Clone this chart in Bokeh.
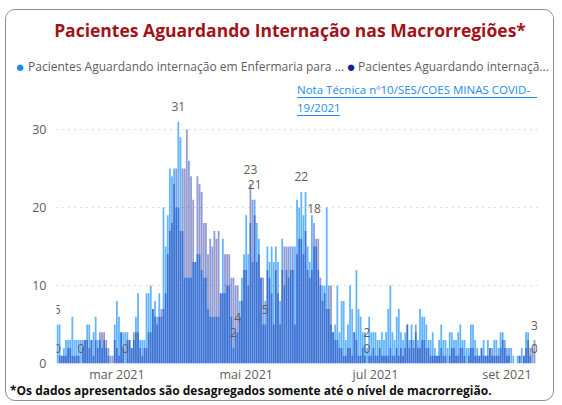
from bokeh.plotting import figure
from bokeh.layouts import column
from bokeh.models import ColumnDataSource, Label, BoxAnnotation, FixedTicker, Range1d
from bokeh.core.properties import value
from bokeh.embed import file_html
from bokeh.resources import INLINE

# day index 0 = 1 fev 2021
days = list(range(226))
enfermaria = [
    5, 5, 1, 2, 3, 3, 3, 6, 3, 3, 3, 3, 2, 3, 5, 5, 3, 4, 6, 3,
    3, 2, 3, 2, 1, 0, 0, 5, 8, 6, 4, 4, 4, 4, 3, 2, 3, 6, 9, 3,
    3, 3, 9, 9, 10, 7, 8, 6, 9, 6, 20, 15, 19, 25, 24, 25, 20, 31, 29, 17,
    11, 11, 11, 11, 13, 13, 14, 14, 12, 11, 11, 7, 6, 6, 6, 6, 6, 9, 16, 9,
    10, 10, 6, 2, 4, 4, 8, 11, 14, 19, 14, 18, 13, 21, 18, 16, 11, 5, 8, 15,
    13, 15, 13, 15, 13, 8, 16, 10, 12, 11, 15, 12, 15, 21, 20, 22, 19, 22, 15, 13,
    19, 15, 15, 12, 10, 10, 10, 20, 7, 5, 4, 5, 10, 4, 8, 8, 3, 5, 10, 7,
    4, 12, 7, 6, 4, 4, 2, 6, 4, 4, 4, 3, 3, 4, 3, 4, 7, 10, 4, 3,
    6, 7, 4, 3, 4, 5, 3, 5, 3, 4, 3, 7, 6, 6, 5, 3, 3, 4, 2, 1,
    3, 5, 3, 3, 2, 4, 4, 3, 3, 4, 5, 3, 3, 2, 2, 5, 5, 3, 2, 1,
    2, 3, 1, 3, 2, 1, 3, 3, 2, 4, 4, 3, 2, 1, 2, 1, 0, 1, 1, 2,
    1, 4, 4, 1, 0, 0,
]
uti = [
    0, 1, 1, 1, 1, 2, 2, 1, 1, 1, 1, 0, 3, 3, 3, 2, 3, 1, 3, 2,
    4, 4, 4, 3, 2, 1, 1, 3, 2, 1, 4, 2, 0, 3, 3, 2, 4, 4, 4, 2,
    1, 2, 2, 4, 4, 7, 6, 5, 6, 7, 7, 9, 14, 17, 18, 23, 25, 20, 17, 25,
    25, 30, 26, 24, 21, 13, 24, 23, 22, 18, 18, 14, 16, 15, 17, 16, 17, 9, 9, 14,
    14, 14, 11, 11, 10, 10, 6, 8, 12, 12, 10, 23, 21, 19, 13, 14, 11, 11, 5, 12,
    11, 9, 5, 12, 9, 5, 12, 15, 15, 15, 12, 15, 5, 14, 16, 16, 14, 17, 12, 11,
    12, 18, 16, 16, 11, 8, 9, 7, 10, 10, 4, 3, 3, 2, 2, 1, 1, 2, 2, 1,
    4, 3, 1, 1, 2, 1, 0, 1, 1, 2, 1, 1, 2, 1, 1, 1, 1, 2, 1, 1,
    2, 1, 2, 1, 2, 5, 2, 3, 2, 5, 2, 2, 3, 3, 2, 2, 1, 1, 1, 1,
    1, 2, 1, 1, 0, 1, 2, 2, 1, 1, 2, 2, 1, 0, 1, 2, 2, 1, 1, 1,
    2, 1, 1, 1, 2, 2, 1, 1, 1, 2, 3, 2, 1, 2, 0, 0, 0, 0, 1, 0,
    1, 2, 3, 2, 2, 3,
]
tick_days = [28, 89, 150, 212]
tick_labels = ["mar 2021", "mai 2021", "jul 2021", "set 2021"]
label_enf_days = [0, 57, 83, 85, 93, 115, 146, 225]
label_uti_days = [0, 11, 32, 91, 98, 121, 146, 225]

title_text = "Pacientes Aguardando Internação nas Macrorregiões*"
legend_1 = "Pacientes Aguardando internação em Enfermaria para ..."
legend_2 = "Pacientes Aguardando internaçã..."
link_1 = "Nota Técnica nº10/SES/COES MINAS COVID-"
link_2 = "19/2021"
footer = "*Os dados apresentados são desagregados somente até  o nível de macrorregião."

C_LIGHT = "#118DFF"
C_DARK = "#12239E"
C_LINK = "#1E8CF0"
C_TXT = "#605E5C"
FONT = "Open Sans"
W = 547
X0, Y0 = 6.5, 10.5   # page position of the card content origin


def blank_fig(top, h):
    f = figure(width=W, height=h, title=None,
               x_range=Range1d(X0, X0 + W), y_range=Range1d(top + h, top),
               x_axis_type=None, y_axis_type=None, min_border=0,
               output_backend="svg", toolbar_location=None)
    f.frame_align = False
    f.grid.visible = False
    f.outline_line_color = None
    f.background_fill_color = "white"
    f.border_fill_color = "white"
    return f


# ---------- header ----------
HEAD_H = 66
head = blank_fig(Y0, HEAD_H)
head.add_layout(Label(x=290, y=30, text=title_text, text_align="center", text_baseline="middle",
                      text_font=FONT, text_font_style="bold", text_font_size="17.5px",
                      text_color="#A3121B"))
head.add_layout(Label(x=20, y=66, text="●", text_align="center", text_baseline="middle",
                      text_color=C_LIGHT, text_font_size="15px"))
head.add_layout(Label(x=28, y=66, text=legend_1, text_align="left", text_baseline="middle",
                      text_font=FONT, text_font_size="12px", text_color=C_TXT))
head.add_layout(Label(x=351, y=66, text="●", text_align="center", text_baseline="middle",
                      text_color=C_DARK, text_font_size="15px"))
head.add_layout(Label(x=358, y=66, text=legend_2, text_align="left", text_baseline="middle",
                      text_font=FONT, text_font_size="12px", text_color=C_TXT))

# ---------- main chart ----------
FL, FT, FB = 56.5, Y0 + HEAD_H, 363.5   # page position of frame left / top / bottom
BOTTOM = 24
MAIN_H = int(FB - FT) + BOTTOM
src = ColumnDataSource(dict(x=days, enf=enfermaria, uti=uti))
p = figure(width=W, height=MAIN_H, title=None,
           x_range=Range1d(-0.4717, 226.415), y_range=Range1d(0, (FB - FT) / 7.8),
           min_border_left=50, min_border_right=16, min_border_top=0,
           min_border_bottom=BOTTOM,
           output_backend="svg", toolbar_location=None)
p.frame_align = False
p.background_fill_color = "white"
p.border_fill_color = "white"
p.outline_line_color = None

p.vbar(x="x", top="enf", width=0.85, source=src, fill_color=C_LIGHT, fill_alpha=0.65,
       line_color=None)
p.vbar(x="x", top="uti", width=0.85, source=src, fill_color=C_DARK, fill_alpha=0.45,
       line_color=None)

lx = list(label_enf_days) + list(label_uti_days)
ly = [enfermaria[d] for d in label_enf_days] + [uti[d] for d in label_uti_days]
lsrc = ColumnDataSource(dict(x=lx, y=ly, t=[str(v) for v in ly]))
p.text(x="x", y="y", text="t", source=lsrc, text_align="center", text_baseline="middle",
       y_offset=-15, text_color=C_TXT, text_font_size="12px", text_font=value(FONT))

p.xaxis.ticker = FixedTicker(ticks=tick_days)
p.xaxis.major_label_overrides = {d: t for d, t in zip(tick_days, tick_labels)}
p.yaxis.ticker = FixedTicker(ticks=[0, 10, 20, 30])
for ax in (p.xaxis[0], p.yaxis[0]):
    ax.axis_line_color = None
    ax.major_tick_line_color = None
    ax.minor_tick_line_color = None
    ax.major_tick_out = 0
    ax.major_tick_in = 0
    ax.major_label_text_color = C_TXT
    ax.major_label_text_font = FONT
    ax.major_label_text_font_size = "12.5px"
p.yaxis.major_label_standoff = 10
p.xaxis.major_label_standoff = 2
p.xgrid.grid_line_color = None
p.ygrid.grid_line_color = "#BDBDBD"
p.ygrid.grid_line_dash = "1 5"


def scr(px, py):
    return px - FL, FB - py


for txt, py in [(link_1, 89), (link_2, 107)]:
    x, y = scr(297, py)
    p.add_layout(Label(x=x, y=y, x_units="screen", y_units="screen", text=txt,
                       text_align="left", text_baseline="middle", text_font=FONT,
                       text_font_size="11.5px", text_color=C_LINK))
for (x0, x1, py) in [(297, 537, 97.5), (297, 340, 115.5)]:
    l, yy = scr(x0, py)
    r, _ = scr(x1, py)
    p.add_layout(BoxAnnotation(left=l, right=r, bottom=yy - 0.5, top=yy + 0.5,
                               left_units="screen", right_units="screen",
                               top_units="screen", bottom_units="screen",
                               fill_color=C_LINK, fill_alpha=1, line_color=None))

# ---------- footer (overlaps the bottom of the chart a little, transparent) ----------
OVERLAP = 8
FOOT_TOP = FT + MAIN_H - OVERLAP
FOOT_H = int(400.5 - FOOT_TOP)
foot = blank_fig(FOOT_TOP, FOOT_H)
foot.background_fill_alpha = 0
foot.border_fill_alpha = 0
foot.styles = {"margin-top": f"-{OVERLAP}px"}
foot.add_layout(Label(x=10, y=390, text=footer, text_align="left", text_baseline="middle",
                      text_font=FONT, text_font_style="bold", text_font_size="12px",
                      text_color="#111111"))

layout = column(head, p, foot, spacing=0)
layout.styles = {"border": "1.5px solid #8C8C8C", "border-radius": "10px",
                 "margin": "9px 0 0 5px", "overflow": "hidden"}

open("out.html", "w").write(file_html(layout, INLINE))
